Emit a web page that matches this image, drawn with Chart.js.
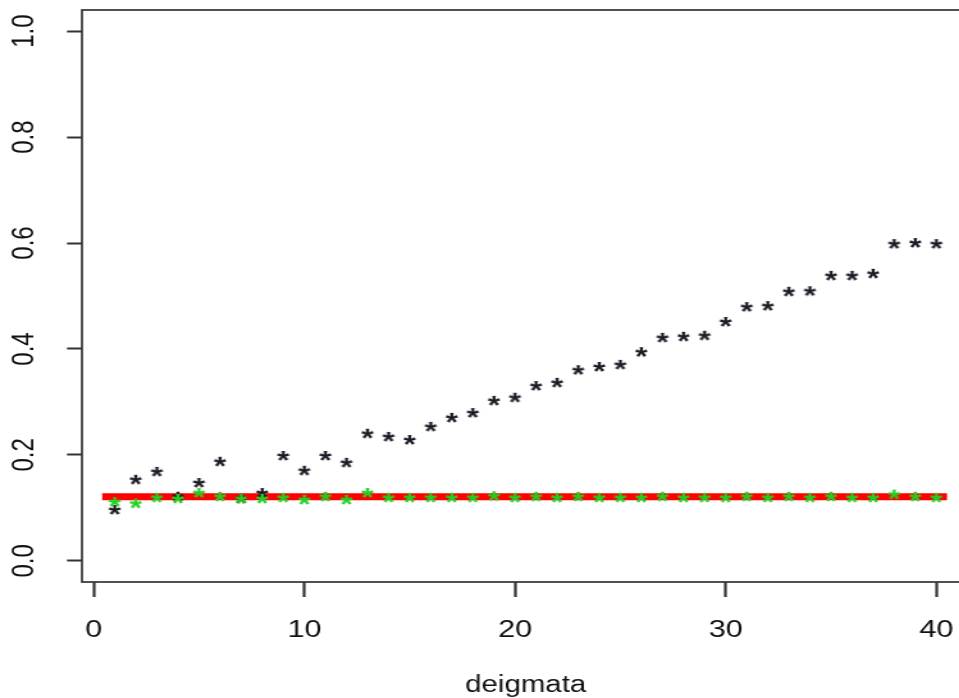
<!DOCTYPE html>
<html>
<head>
<meta charset="utf-8">
<title>deigmata</title>
<script src="https://cdn.jsdelivr.net/npm/chart.js@4.4.1/dist/chart.umd.min.js"></script>
<style>
  html, body { margin: 0; padding: 0; background: #fff; overflow: hidden; }
</style>
</head>
<body>
<!-- the original picture is stretched sideways, so the canvas is drawn narrow and widened by css -->
<canvas id="grafico" width="763" height="698" style="width:977px;height:698px"></canvas>
<script>
// values
var samples = [1, 2, 3, 4, 5, 6, 7, 8, 9, 10, 11, 12, 13, 14, 15, 16, 17, 18, 19, 20,
               21, 22, 23, 24, 25, 26, 27, 28, 29, 30, 31, 32, 33, 34, 35, 36, 37, 38, 39, 40];
var blackValues = [0.096, 0.153, 0.168, 0.121, 0.147, 0.187, 0.117, 0.128, 0.198, 0.170,
                   0.198, 0.185, 0.240, 0.234, 0.228, 0.253, 0.270, 0.279, 0.302, 0.308,
                   0.330, 0.336, 0.360, 0.366, 0.370, 0.394, 0.421, 0.423, 0.425, 0.451,
                   0.479, 0.481, 0.508, 0.509, 0.538, 0.538, 0.542, 0.598, 0.600, 0.598];
var greenValues = [0.111, 0.108, 0.119, 0.117, 0.128, 0.121, 0.117, 0.117, 0.119, 0.115,
                   0.121, 0.115, 0.128, 0.119, 0.119, 0.119, 0.119, 0.119, 0.122, 0.119,
                   0.121, 0.119, 0.121, 0.119, 0.119, 0.119, 0.121, 0.119, 0.119, 0.119,
                   0.121, 0.119, 0.121, 0.119, 0.121, 0.119, 0.119, 0.125, 0.121, 0.119];
var redLineX = [0.4, 40.5];
var redLevel = 0.121;
var xTickValues = [0, 10, 20, 30, 40];
var yTickValues = [0, 0.2, 0.4, 0.6, 0.8, 1.0];

var fontFamily = '"Liberation Sans", Arial, sans-serif';

// the "*" marker as a little canvas, centred on its ink
function asterisk(color) {
    var c = document.createElement('canvas');
    c.width = 22;
    c.height = 22;
    var g = c.getContext('2d');
    g.font = 'bold 25px ' + fontFamily;
    g.fillStyle = color;
    g.textAlign = 'left';
    g.textBaseline = 'alphabetic';
    var m = g.measureText('*');
    var w = m.actualBoundingBoxLeft + m.actualBoundingBoxRight;
    var h = m.actualBoundingBoxAscent + m.actualBoundingBoxDescent;
    g.fillText('*', (22 - w) / 2 + m.actualBoundingBoxLeft, (22 - h) / 2 + m.actualBoundingBoxAscent);
    return c;
}

// box round the plot region
var plotBox = {
    id: 'plotBox',
    beforeDatasetsDraw: function (chart) {
        var a = chart.chartArea;
        var ctx = chart.ctx;
        ctx.save();
        ctx.strokeStyle = '#333';
        ctx.lineWidth = 1.7;
        ctx.strokeRect(a.left, a.top, a.right - a.left, a.bottom - a.top);
        ctx.restore();
    }
};

var ctx = document.getElementById('grafico').getContext('2d');
new Chart(ctx, {
    type: 'scatter',
    data: {
        datasets: [
            {
                label: 'level',
                data: redLineX.map(function (x) { return { x: x, y: redLevel }; }),
                showLine: true,
                borderColor: '#ff0000',
                borderWidth: 7,
                borderCapStyle: 'butt',
                pointRadius: 0,
                order: 3
            },
            {
                label: 'black',
                data: samples.map(function (x, i) { return { x: x, y: blackValues[i] }; }),
                pointStyle: asterisk('#1a1a24'),
                pointRadius: 5,
                order: 2
            },
            {
                label: 'green',
                data: samples.map(function (x, i) { return { x: x, y: greenValues[i] }; }),
                pointStyle: asterisk('#22d022'),
                pointRadius: 5,
                order: 1
            }
        ]
    },
    options: {
        responsive: false,
        animation: false,
        layout: { padding: { top: 10, right: 5, left: 0, bottom: 0 } },
        plugins: {
            legend: { display: false },
            tooltip: { enabled: false }
        },
        scales: {
            x: {
                type: 'linear',
                min: -0.56,
                max: 41.56,
                afterBuildTicks: function (s) {
                    s.ticks = xTickValues.map(function (v) { return { value: v }; });
                },
                afterFit: function (s) {
                    s.height = 116;
                    s.paddingLeft = 0;
                    s.paddingRight = 0;
                },
                grid: { drawOnChartArea: false, drawTicks: true, tickLength: 15, tickColor: '#333', tickWidth: 2.2 },
                border: { display: false },
                ticks: {
                    color: '#111',
                    font: { family: fontFamily, size: 24 },
                    padding: 19,
                    maxRotation: 0,
                    autoSkip: false
                },
                title: {
                    display: true,
                    text: 'deigmata',
                    color: '#111',
                    font: { family: fontFamily, size: 23 },
                    padding: { top: 0, bottom: -1 }
                }
            },
            y: {
                type: 'linear',
                min: -0.04,
                max: 1.04,
                afterBuildTicks: function (s) {
                    s.ticks = yTickValues.map(function (v) { return { value: v }; });
                },
                afterFit: function (s) {
                    s.width = 64;
                    s.paddingTop = 0;
                    s.paddingBottom = 0;
                },
                grid: { drawOnChartArea: false, drawTicks: true, tickLength: 11.7, tickColor: '#333', tickWidth: 2 },
                border: { display: false },
                ticks: {
                    color: '#111',
                    font: { family: fontFamily, size: 24 },
                    padding: 16.5,
                    minRotation: 90,
                    maxRotation: 90,
                    crossAlign: 'center',
                    autoSkip: false,
                    callback: function (v) { return v.toFixed(1); }
                }
            }
        }
    },
    plugins: [plotBox]
});
</script>
</body>
</html>
